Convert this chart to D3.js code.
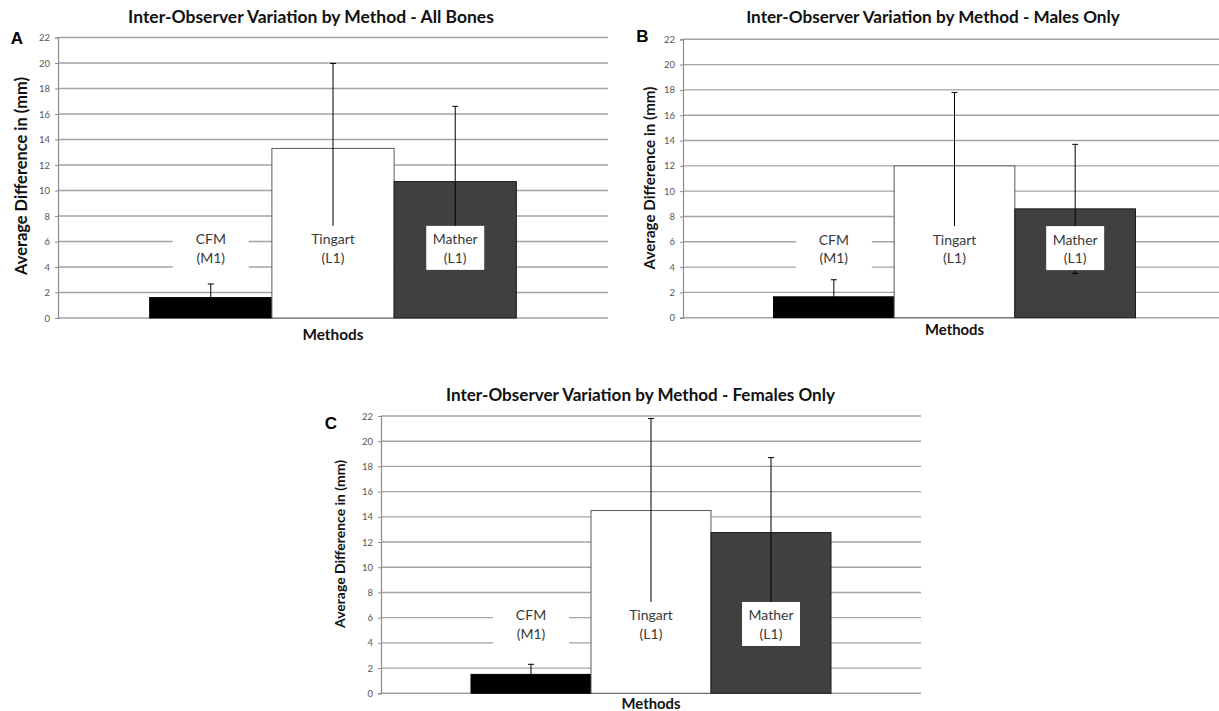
<!DOCTYPE html>
<html>
<head>
<meta charset="utf-8">
<script src="https://cdn.jsdelivr.net/npm/d3@7"></script>
<style>
  html, body { margin: 0; padding: 0; background: #fff; overflow: hidden; }
  svg { display: block; }
  text { font-family: Lato, "Open Sans", sans-serif; }
</style>
</head>
<body>
<svg id="chart" width="1219" height="711"></svg>
<script>
// ---------------- DATA ----------------
const methods = ["CFM", "Tingart", "Mather"];
const methodCodes = ["(M1)", "(L1)", "(L1)"];
const panelLetters = ["A", "B", "C"];
const panelTitles = [
  "Inter-Observer Variation by Method - All Bones",
  "Inter-Observer Variation by Method - Males Only",
  "Inter-Observer Variation by Method - Females Only"
];
const meansAll = [1.6, 13.3, 10.7];
const errorsAll = [1.07, 6.67, 5.9];
const meansMales = [1.65, 12.0, 8.6];
const errorsMales = [1.35, 5.8, 5.1];
const meansFemales = [1.5, 14.5, 12.75];
const errorsFemales = [0.8, 7.3, 5.95];
const yTicks = [0, 2, 4, 6, 8, 10, 12, 14, 16, 18, 20, 22];
const yAxisTitle = "Average Difference in (mm)";
const xAxisTitle = "Methods";

// ---------------- STYLE / LAYOUT ----------------
const barFill = ["#000000", "#ffffff", "#404040"];
const barStroke = ["#000000", "#5a5a5a", "#1a1a1a"];
const labelBoxW = [76, 58, 58];
const labelBoxH = 44;
const labelCenterValue = 5.5;

const layouts = [
  {left: 58, right: 608, top: 37.5, bottom: 318, titleX: 311, titleY: 22.5, titleW: 366,
   letterX: 17, letterY: 43.5, yTitleX: 23, yTitleCY: 176, yTitleW: 198, xTitleY: 339.5, xTitleW: 61},
  {left: 683, right: 1226, top: 39.3, bottom: 317.7, titleX: 933, titleY: 22.5, titleW: 374,
   letterX: 642.5, letterY: 41.5, yTitleX: 651, yTitleCY: 178, yTitleW: 183, xTitleY: 334.5, xTitleW: 59},
  {left: 381, right: 921, top: 416, bottom: 693.3, titleX: 640.5, titleY: 400.5, titleW: 389,
   letterX: 331, letterY: 428.5, yTitleX: 341.7, yTitleCY: 544, yTitleW: 168, xTitleY: 708.5, xTitleW: 59}
];

const panels = [
  {means: meansAll, errors: errorsAll},
  {means: meansMales, errors: errorsMales},
  {means: meansFemales, errors: errorsFemales}
];

const svg = d3.select("#chart");

function fitText(sel, target) {
  const base = 16;
  sel.style("font-size", base + "px");
  const w = sel.node().getComputedTextLength();
  sel.style("font-size", (base * target / w).toFixed(2) + "px");
}

panels.forEach((p, i) => {
  const L = layouts[i];
  const g = svg.append("g");

  const y = d3.scaleLinear().domain([0, 22]).range([L.bottom, L.top]);
  const x = d3.scaleBand().domain(methods).range([L.left, L.right])
    .paddingInner(0).paddingOuter(0.75);

  // gridlines
  g.append("g").selectAll("line").data(yTicks).join("line")
    .attr("x1", L.left).attr("x2", L.right)
    .attr("y1", d => y(d)).attr("y2", d => y(d))
    .attr("stroke", "#a3a3a3").attr("stroke-width", 1.4);

  // y axis
  const axis = d3.axisLeft(y).tickValues(yTicks).tickSize(3).tickPadding(5);
  const ag = g.append("g").attr("transform", `translate(${L.left},0)`).call(axis);
  ag.select(".domain").attr("stroke", "#8c8c8c").attr("stroke-width", 1.2);
  ag.selectAll(".tick line").attr("stroke", "#8c8c8c");
  ag.selectAll(".tick text").attr("fill", "#555").style("font-size", "9.5px")
    .style("font-family", "Lato, sans-serif");

  // bars
  g.append("g").selectAll("rect").data(p.means).join("rect")
    .attr("x", (d, j) => x(methods[j]))
    .attr("y", d => y(d))
    .attr("width", x.bandwidth())
    .attr("height", d => y(0) - y(d))
    .attr("fill", (d, j) => barFill[j])
    .attr("stroke", (d, j) => barStroke[j])
    .attr("stroke-width", 1);

  // error bars
  const eg = g.append("g").attr("stroke", "#000").attr("stroke-width", 1);
  p.means.forEach((m, j) => {
    const cx = x(methods[j]) + x.bandwidth() / 2;
    const hi = m + p.errors[j], lo = m - p.errors[j];
    eg.append("line").attr("x1", cx).attr("x2", cx).attr("y1", y(hi)).attr("y2", y(lo));
    eg.append("line").attr("x1", cx - 3).attr("x2", cx + 3).attr("y1", y(hi)).attr("y2", y(hi));
    eg.append("line").attr("x1", cx - 3).attr("x2", cx + 3).attr("y1", y(lo)).attr("y2", y(lo));
  });

  // data labels
  const lg = g.append("g");
  methods.forEach((mName, j) => {
    const cx = x(mName) + x.bandwidth() / 2;
    const cy = y(labelCenterValue);
    lg.append("rect")
      .attr("x", cx - labelBoxW[j] / 2).attr("y", cy - labelBoxH / 2)
      .attr("width", labelBoxW[j]).attr("height", labelBoxH)
      .attr("fill", "#fff");
    lg.append("text").attr("x", cx).attr("y", cy - 3.5)
      .attr("text-anchor", "middle").attr("fill", "#3a3a3a")
      .style("font-size", "14px").text(mName);
    lg.append("text").attr("x", cx).attr("y", cy + 15)
      .attr("text-anchor", "middle").attr("fill", "#3a3a3a")
      .style("font-size", "14px").text(methodCodes[j]);
  });

  // titles
  const t = g.append("text").attr("x", L.titleX).attr("y", L.titleY)
    .attr("text-anchor", "middle").attr("font-weight", 700).attr("fill", "#111")
    .text(panelTitles[i]);
  fitText(t, L.titleW);

  const xt = g.append("text").attr("x", (L.left + L.right) / 2).attr("y", L.xTitleY)
    .attr("text-anchor", "middle").attr("font-weight", 700).attr("fill", "#111")
    .text(xAxisTitle);
  fitText(xt, L.xTitleW);

  const yt = g.append("text")
    .attr("transform", `translate(${L.yTitleX},${L.yTitleCY}) rotate(-90)`)
    .attr("text-anchor", "middle").attr("dominant-baseline", "middle")
    .attr("font-weight", 700).attr("fill", "#111")
    .text(yAxisTitle);
  fitText(yt, L.yTitleW);

  g.append("text").attr("x", L.letterX).attr("y", L.letterY)
    .attr("text-anchor", "middle").attr("font-weight", 700).attr("fill", "#000")
    .style("font-family", "'Liberation Sans', Arial, sans-serif").style("font-size", "17px")
    .text(panelLetters[i]);
});
</script>
</body>
</html>
